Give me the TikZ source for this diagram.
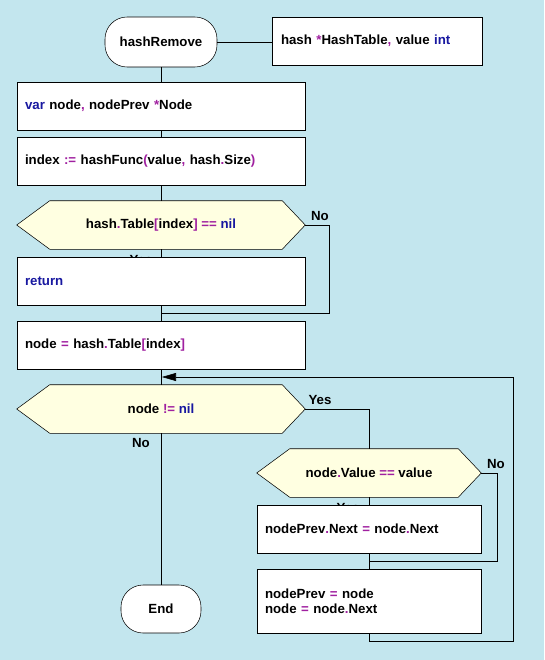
\documentclass[tikz,border=0pt]{standalone}
\usepackage{fontspec}
\setmainfont{Liberation Sans}
\usetikzlibrary{arrows.meta}
\definecolor{bgc}{RGB}{195,230,238}
\definecolor{decc}{RGB}{255,255,225}
\definecolor{opc}{RGB}{160,32,160}
\definecolor{kwc}{RGB}{24,24,160}
\newcommand{\opx}[1]{\textcolor{opc}{#1}}
\newcommand{\kwx}[1]{\textcolor{kwc}{#1}}
\pgfdeclarelayer{bgl}
\pgfdeclarelayer{hexl}
\pgfsetlayers{bgl,hexl,main}
\begin{document}
\begin{tikzpicture}[x=0.75pt,y=-0.75pt,
  every node/.style={font=\fontsize{9.95}{11.5}\selectfont\bfseries},
  line width=0.75pt,
  box/.style={draw, fill=white, rectangle, align=left, inner xsep=6pt, inner ysep=0pt, text width=204pt, minimum height=36pt},
  sbox/.style={box, text width=156pt},
  term/.style={draw, fill=white, rectangle, rounded corners=16.5pt, inner sep=0pt, minimum height=36pt},
  dec/.style={rectangle, inner sep=0pt, minimum width=216pt, minimum height=36pt},
  hexa/.style={fill=decc, draw},
  lbl/.style={inner sep=0pt},
  arr/.style={-{Triangle[length=10.5pt,width=6pt]}}
]
\begin{pgfonlayer}{bgl}
\fill[bgc] (0,0) rectangle (544,660);
\end{pgfonlayer}

% labels (drawn first so boxes may cover them)
\node[lbl] (l1) at (320,216) {No};
\node[lbl] (l2) at (141,259.5) {Yes};
\node[lbl] (l3) at (320,400) {Yes};
\node[lbl] (l4) at (141,443) {No};
\node[lbl] (l5) at (496,464) {No};
\node[lbl] (l6) at (348,507.5) {Yes};

% nodes
\node[term, minimum width=84pt, minimum height=37.5pt] (t1) at (161,42) {hashRemove};
\node[box, text width=144pt, inner xsep=6.75pt] (p1) at (377,41) {hash \opx{*}HashTable\opx{,} value \kwx{int}};
\node[box] (b1) at (161,106) {\kwx{var} node\opx{,} nodePrev \opx{*}Node};
\node[box] (b2) at (161,161) {index \opx{:=} hashFunc\opx{(}value\opx{,} hash\opx{.}Size\opx{)}};
\node[dec] (d1) at (161,225) {hash\opx{.}Table\opx{[}index\opx{]} \opx{==} \kwx{nil}};
\node[box] (b3) at (161,281) {\kwx{return}};
\node[box] (b4) at (161,345) {node \opx{=} hash\opx{.}Table\opx{[}index\opx{]}};
\node[dec] (d2) at (161,409) {node \opx{!=} \kwx{nil}};
\node[dec, minimum width=168pt] (d3) at (369,473) {node\opx{.}Value \opx{==} value};
\node[sbox] (b5) at (369,529) {nodePrev\opx{.}Next \opx{=} node\opx{.}Next};
\node[sbox, minimum height=48pt] (b6) at (369,601) {nodePrev \opx{=} node\\node \opx{=} node\opx{.}Next};
\node[term, minimum width=60pt] (t2) at (161,609) {End};

% hexagon outlines
\begin{pgfonlayer}{hexl}
\foreach \d in {d1,d2,d3}{
  \path[hexa] (\d.west) -- ([xshift=24.75pt]\d.north west) -- ([xshift=-17.25pt]\d.north east)
    -- (\d.east) -- ([xshift=-17.25pt]\d.south east) -- ([xshift=24.75pt]\d.south west) -- cycle;
}
\end{pgfonlayer}

\coordinate (j1) at (161,313);
\coordinate (j2) at (369,561);
\coordinate (j3) at (162,377);

% connectors
\draw (t1.east) -- (t1.east -| p1.west);
\draw (t1.south) -- (b1.north);
\draw (b1.south) -- (b2.north);
\draw (b2.south) -- (d1.north);
\draw (d1.south) -- (b3.north);
\draw (b3.south) -- (b4.north);
\draw (b4.south) -- (d2.north);
\draw (d2.south) -- (t2.north);
\draw (d1.east) -- (329,225) |- (j1);
\draw (d2.east) -| (d3.north);
\draw (d3.south) -- (b5.north);
\draw (b5.south) -- (b6.north);
\draw (d3.east) -- (497,473) |- (j2);
\draw[arr] (b6.south) -- (369,641) -| (513,377) -- (j3);
\end{tikzpicture}
\end{document}
